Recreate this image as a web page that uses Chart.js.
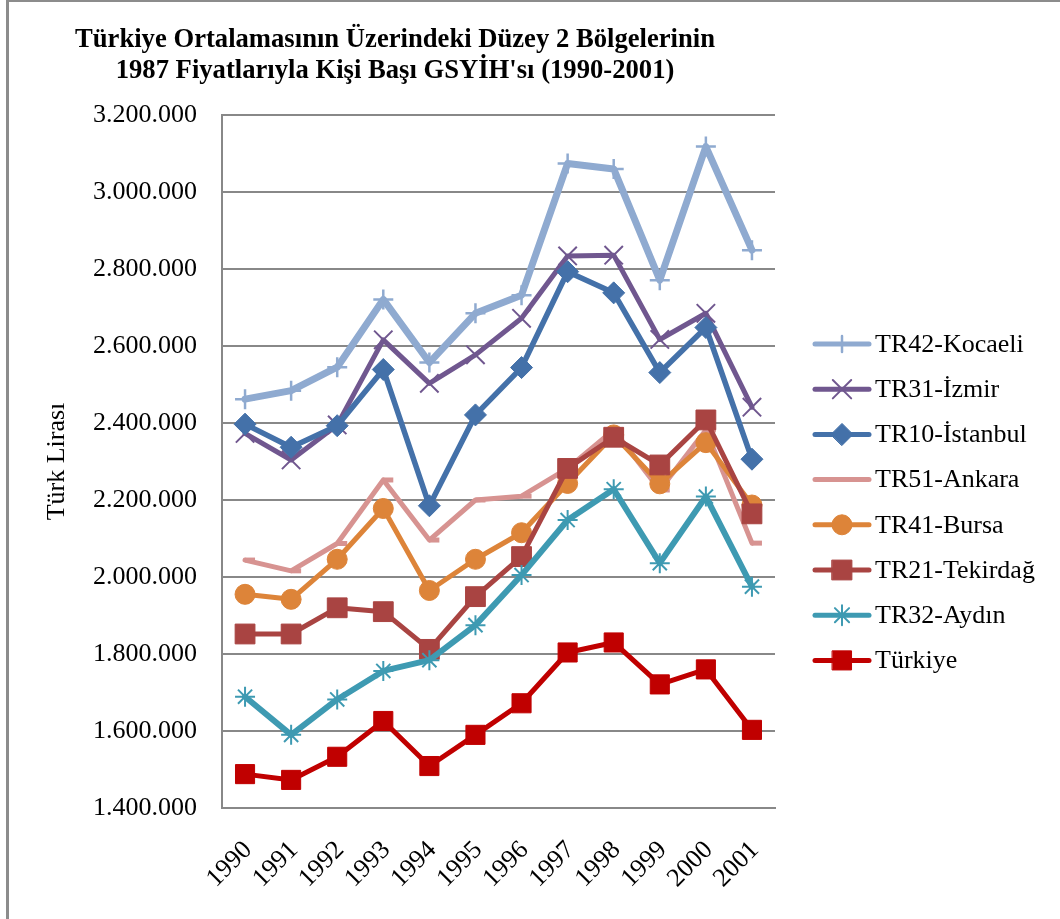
<!DOCTYPE html>
<html><head><meta charset="utf-8">
<style>html,body{margin:0;padding:0;background:#fff;}canvas{display:block;}</style>
<script src="https://cdn.jsdelivr.net/npm/chart.js"></script>
</head><body>
<canvas id="c" width="1060" height="919"></canvas>
<script>
const years = ['1990','1991','1992','1993','1994','1995','1996','1997','1998','1999','2000','2001'];
const titleLines = ['Türkiye Ortalamasının Üzerindeki Düzey 2 Bölgelerinin', "1987 Fiyatlarıyla Kişi Başı GSYİH'sı (1990-2001)"];
const yAxisTitle = 'Türk Lirası';
const seriesNames = ['TR42-Kocaeli','TR31-İzmir','TR10-İstanbul','TR51-Ankara','TR41-Bursa','TR21-Tekirdağ','TR32-Aydın','Türkiye'];
const kocaeli  = [2462000,2484000,2545000,2721000,2557000,2685000,2732000,3074000,3060000,2771000,3118000,2849000];
const izmir    = [2373000,2304000,2395000,2616000,2503000,2577000,2672000,2834000,2836000,2617000,2685000,2441000];
const istanbul = [2397000,2337000,2393000,2539000,2185000,2421000,2544000,2793000,2738000,2531000,2648000,2306000];
const ankara   = [2044000,2016000,2087000,2252000,2096000,2200000,2210000,2282000,2382000,2226000,2382000,2088000];
const bursa    = [1955000,1942000,2046000,2178000,1965000,2046000,2115000,2243000,2369000,2242000,2349000,2187000];
const tekirdag = [1852000,1852000,1920000,1910000,1812000,1949000,2053000,2282000,2363000,2291000,2408000,2164000];
const aydin    = [1689000,1590000,1682000,1756000,1784000,1875000,2005000,2148000,2228000,2036000,2209000,1975000];
const turkiye  = [1488000,1473000,1533000,1626000,1509000,1590000,1672000,1804000,1830000,1721000,1760000,1603000];
const yMin = 1400000, yMax = 3200000, yStep = 200000;

const seriesData = [kocaeli, izmir, istanbul, ankara, bursa, tekirdag, aydin, turkiye];
const styles = [
  {color:'#8FAAD0', width:7, point:'cross', r:10, pw:2.5},
  {color:'#70578F', width:5, point:'crossRot', r:13, pw:2},
  {color:'#4471A9', width:5.5, point:'rectRot', r:11, pw:1},
  {color:'#D79391', width:5, point:'dash', r:10, pw:5},
  {color:'#DD8439', width:5, point:'circle', r:10, pw:1},
  {color:'#A94442', width:5, point:'rect', r:14, pw:1},
  {color:'#3E9AB2', width:6, point:'star', r:10, pw:2},
  {color:'#C00000', width:5, point:'rect', r:13.5, pw:1}
];
const SERIF = '"Liberation Serif","Times New Roman",serif';

const datasets = seriesData.map((d,i)=>({
  label: seriesNames[i],
  data: d,
  borderColor: styles[i].color,
  backgroundColor: styles[i].color,
  borderWidth: styles[i].width,
  pointStyle: styles[i].point,
  pointRadius: styles[i].r,
  pointBorderWidth: styles[i].pw,
  pointBackgroundColor: styles[i].color,
  pointBorderColor: styles[i].color,
  borderJoinStyle: 'round',
  borderCapStyle: 'round',
  tension: 0,
  order: seriesData.length - i
}));

const fmt = v => String(v).replace(/\B(?=(\d{3})+(?!\d))/g, '.');

const deco = {
  id: 'deco',
  beforeDraw(chart){
    const ctx = chart.ctx;
    ctx.save();
    ctx.fillStyle = '#fff';
    ctx.fillRect(0,0,chart.width,chart.height);
    ctx.fillStyle = '#8c8c8c';
    ctx.fillRect(6,0,3,chart.height);
    ctx.fillRect(6,0,chart.width-6,2);
    ctx.restore();
  },
  afterDraw(chart){
    const ctx = chart.ctx;
    ctx.save();
    ctx.fillStyle = '#000';
    ctx.font = 'bold 28px ' + SERIF;
    ctx.textAlign = 'center';
    ctx.textBaseline = 'alphabetic';
    const w1 = ctx.measureText(titleLines[0]).width;
    const sx = 640 / w1;
    [47, 78].forEach((y, k) => {
      ctx.save();
      ctx.translate(395, y);
      ctx.scale(sx, 1);
      ctx.fillText(titleLines[k], 0, 0);
      ctx.restore();
    });
    ctx.font = '26px ' + SERIF;
    ctx.textAlign = 'left';
    ctx.textBaseline = 'middle';
    chart.data.datasets.forEach((ds, i) => {
      const y = 344 + i * 45.2;
      ctx.strokeStyle = ds.borderColor;
      ctx.lineWidth = 5;
      ctx.lineCap = 'round';
      ctx.beginPath();
      ctx.moveTo(815, y);
      ctx.lineTo(869, y);
      ctx.stroke();
      if (ds.pointStyle !== 'dash') {
        ctx.fillStyle = ds.pointBackgroundColor;
        ctx.strokeStyle = ds.pointBorderColor;
        ctx.lineWidth = ds.pointBorderWidth;
        const r = ds.pointStyle === 'cross' ? 8 : ds.pointRadius;
        Chart.helpers.drawPoint(ctx, {pointStyle: ds.pointStyle, radius: r, borderWidth: ds.pointBorderWidth, rotation: 0}, 842, y);
      }
      ctx.fillStyle = '#000';
      ctx.fillText(ds.label, 875, y + 1);
    });
    ctx.restore();
  }
};

new Chart(document.getElementById('c'), {
  type: 'line',
  data: { labels: years, datasets },
  plugins: [deco],
  options: {
    responsive: false,
    animation: false,
    devicePixelRatio: 1,
    layout: { padding: { left: 8, top: 115, right: 285, bottom: 0 } },
    plugins: { legend: { display: false }, title: { display: false }, tooltip: { enabled: false } },
    scales: {
      x: {
        offset: true,
        grid: { display: false, drawTicks: false },
        border: { display: true, color: '#888', width: 2 },
        ticks: {
          autoSkip: false, maxRotation: 45, minRotation: 45,
          color: '#000', font: { family: SERIF, size: 26 },
          padding: 27, labelOffset: 3
        },
        afterFit(scale){ scale.height = 111; }
      },
      y: {
        min: yMin, max: yMax,
        grid: { color: '#888', lineWidth: 2, drawTicks: false },
        border: { display: true, color: '#888', width: 2 },
        ticks: {
          stepSize: yStep, color: '#000', padding: 25,
          font: { family: SERIF, size: 26 },
          callback: v => fmt(v)
        },
        title: {
          display: true, text: yAxisTitle, color: '#000',
          font: { family: SERIF, size: 26 },
          padding: { top: 34, bottom: 0 }
        },
        afterFit(scale){ scale.width = 214; }
      }
    }
  }
});
</script>
</body></html>
